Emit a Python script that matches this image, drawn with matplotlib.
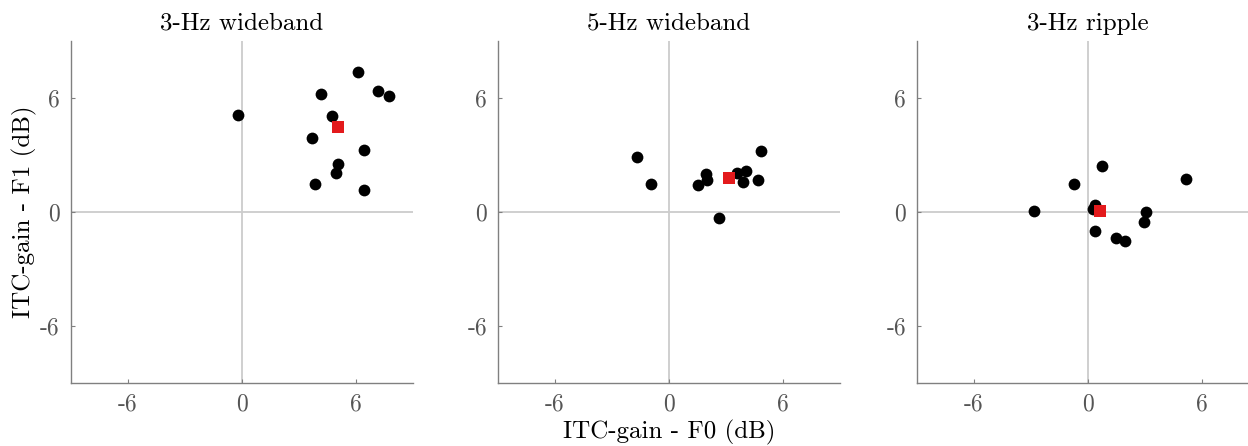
import numpy as np
import matplotlib.pyplot as plt

plt.rcParams['font.family'] = 'cmr10'
plt.rcParams['mathtext.fontset'] = 'cm'
plt.rcParams['axes.unicode_minus'] = False
plt.rcParams['axes.formatter.use_mathtext'] = True

# ITC gain per subject (dB): F0 on x, F1 on y, and the group mean
titles = ['3-Hz wideband', '5-Hz wideband', '3-Hz ripple']

wb3_f0 = [-0.19, 4.18, 6.14, 7.18, 7.77, 4.74, 3.72, 6.46, 5.09, 4.97, 3.84, 6.42]
wb3_f1 = [5.09, 6.21, 7.37, 6.35, 6.11, 5.05, 3.88, 3.25, 2.53, 2.04, 1.47, 1.12]
wb3_mean = (5.09, 4.44)

wb5_f0 = [-1.70, -0.93, 1.51, 1.95, 1.98, 2.65, 3.60, 4.05, 3.91, 4.68, 4.84]
wb5_f1 = [2.89, 1.45, 1.42, 1.98, 1.65, -0.32, 2.05, 2.16, 1.56, 1.68, 3.19]
wb5_mean = (3.16, 1.77)

rp3_f0 = [-2.86, -0.76, 0.72, 5.16, 0.38, 0.28, 3.05, 2.93, 0.35, 1.47, 1.95]
rp3_f1 = [0.02, 1.47, 2.41, 1.71, 0.35, 0.12, 0.00, -0.54, -1.03, -1.40, -1.53]
rp3_mean = (0.65, 0.04)

f0 = [wb3_f0, wb5_f0, rp3_f0]
f1 = [wb3_f1, wb5_f1, rp3_f1]
means = [wb3_mean, wb5_mean, rp3_mean]

fig = plt.figure(figsize=(12.48, 4.46), dpi=100)
lefts = [70.7, 498, 917]
axes = []
for i in range(3):
    ax = fig.add_axes([lefts[i] / 1248, 63.3 / 446, 342 / 1248, 342 / 446])
    axes.append(ax)
    ax.axhline(0, color='#cccccc', lw=1.3, zorder=0)
    ax.axvline(0, color='#cccccc', lw=1.3, zorder=0)
    ax.scatter(f0[i], f1[i], s=72, color='black', zorder=3, linewidths=0)
    ax.scatter([means[i][0]], [means[i][1]], s=85, marker='s', color='#e31a1c',
               zorder=4, linewidths=0)
    ax.set_xlim(-9, 9)
    ax.set_ylim(-9, 9)
    ax.set_xticks([-6, 0, 6])
    ax.set_yticks([-6, 0, 6])
    ax.set_xticklabels(['-6', '0', '6'])
    ax.set_yticklabels(['-6', '0', '6'])
    ax.tick_params(direction='in', length=3, width=0.8, color='#808080',
                   labelcolor='#555555', labelsize=17, pad=8)
    for side in ['top', 'right']:
        ax.spines[side].set_visible(False)
    for side in ['left', 'bottom']:
        ax.spines[side].set_color('#808080')
        ax.spines[side].set_linewidth(1.0)
    ax.set_title(titles[i], fontsize=18, pad=8)

axes[0].set_ylabel('ITC-gain - F1 (dB)', fontsize=18, labelpad=2)
axes[1].set_xlabel('ITC-gain - F0 (dB)', fontsize=18, labelpad=3)

fig.savefig('out.png', dpi=100)
